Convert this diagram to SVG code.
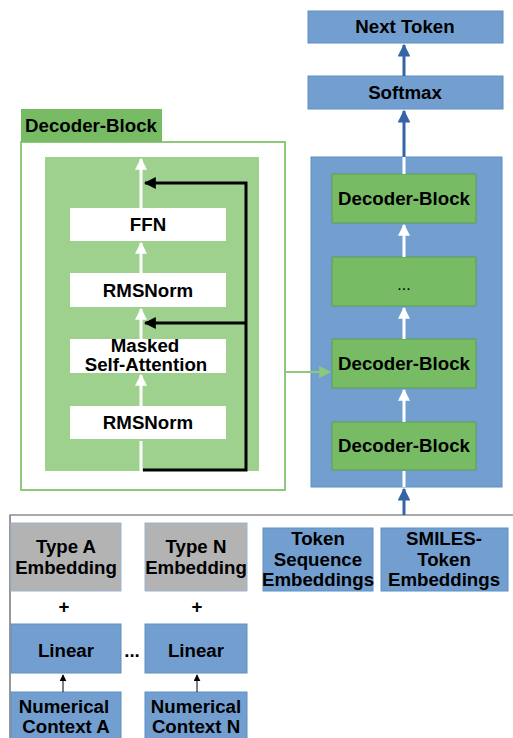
<svg xmlns="http://www.w3.org/2000/svg" width="513" height="738" viewBox="0 0 513 738">
<defs>
<style>
text{font-family:"Liberation Sans",Arial,sans-serif;font-weight:bold;font-size:18.7px;fill:#000;text-anchor:middle}
.blue{fill:#729fcf;stroke:#5f8fc4;stroke-width:1}
.green{fill:#77bc65;stroke:#5f9e50;stroke-width:1}
.gray{fill:#b3b3b3;stroke:#9db4d0;stroke-width:1}
.white{fill:#ffffff}
.wl{stroke:#ffffff;stroke-width:3;fill:none}
.db{stroke:#3465a4;stroke-width:3;fill:none}
.bk{stroke:#000;stroke-width:3;fill:none}
</style>
<marker id="aw" viewBox="0 0 10 10" refX="9" refY="5" markerWidth="4" markerHeight="4" orient="auto" markerUnits="strokeWidth"><path d="M0,0 L10,5 L0,10 z" fill="#ffffff"/></marker>
<marker id="ab" viewBox="0 0 10 10" refX="9" refY="5" markerWidth="4.3" markerHeight="4.3" orient="auto" markerUnits="strokeWidth"><path d="M0,0 L10,5 L0,10 z" fill="#3465a4"/></marker>
<marker id="ak" viewBox="0 0 10 10" refX="9" refY="5" markerWidth="4" markerHeight="4" orient="auto" markerUnits="strokeWidth"><path d="M0,0 L10,5 L0,10 z" fill="#000"/></marker>
<marker id="ag" viewBox="0 0 10 10" refX="9" refY="5" markerWidth="6" markerHeight="6" orient="auto" markerUnits="strokeWidth"><path d="M0,0 L10,5 L0,10 z" fill="#8cc97a"/></marker>
<marker id="as" viewBox="0 0 10 10" refX="9" refY="5" markerWidth="7" markerHeight="7" orient="auto" markerUnits="strokeWidth"><path d="M0,0 L10,5 L0,10 z" fill="#000"/></marker>
</defs>

<g id="frame">
<path d="M10,738 L10,515 L513,515" stroke="#555" stroke-width="1.2" fill="none"/>
</g>

<g id="decoder-detail">
<rect x="21" y="142" width="264" height="348" fill="#fff" stroke="#8cc97a" stroke-width="2"/>
<rect x="21" y="109" width="141" height="33" fill="#77bc65"/>
<text x="91" y="132">Decoder-Block</text>
<rect x="45" y="157" width="214" height="314" fill="#9fd18e"/>
</g>

<g id="ffn"><rect class="white" x="70" y="208" width="156" height="33"/><text x="148" y="231">FFN</text></g>
<g id="rmsnorm-top"><rect class="white" x="70" y="273" width="156" height="34"/><text x="148" y="297">RMSNorm</text></g>
<g id="msa"><rect class="white" x="70" y="339" width="156" height="34"/><text x="145" y="352">Masked</text><text x="146" y="371">Self-Attention</text></g>
<g id="rmsnorm-bottom"><rect class="white" x="70" y="406" width="156" height="33"/><text x="148" y="429">RMSNorm</text></g>

<g id="next-token"><rect class="blue" x="308" y="11" width="195" height="32"/><text x="405" y="33">Next Token</text></g>
<g id="softmax"><rect class="blue" x="308" y="76" width="195" height="33"/><text x="405" y="99">Softmax</text></g>
<g id="stack"><rect x="311" y="157" width="191" height="330" fill="#729fcf" stroke="#5f8fc4" stroke-width="1"/></g>
<g id="db4"><rect class="green" x="332" y="174" width="144" height="49"/><text x="404" y="205">Decoder-Block</text></g>
<g id="dots"><rect class="green" x="332" y="257" width="144" height="49"/><text x="404" y="290" style="font-weight:normal;font-size:16px">...</text></g>
<g id="db2"><rect class="green" x="332" y="339" width="144" height="49"/><text x="404" y="370">Decoder-Block</text></g>
<g id="db1"><rect class="green" x="332" y="422" width="144" height="48"/><text x="404" y="452">Decoder-Block</text></g>

<g id="type-a"><rect class="gray" x="11" y="523" width="110" height="68"/><text x="66" y="553">Type A</text><text x="66" y="574">Embedding</text></g>
<g id="type-n"><rect class="gray" x="145" y="523" width="102" height="68"/><text x="196" y="553">Type N</text><text x="196" y="574">Embedding</text></g>
<g id="plus-a"><text x="64" y="613">+</text></g>
<g id="plus-n"><text x="197" y="613">+</text></g>
<g id="linear-a"><rect class="blue" x="11" y="624" width="110" height="49"/><text x="66" y="657">Linear</text></g>
<g id="ellipsis"><text x="132" y="657">...</text></g>
<g id="linear-n"><rect class="blue" x="145" y="624" width="102" height="49"/><text x="196" y="657">Linear</text></g>
<g id="num-a"><rect class="blue" x="11" y="692" width="110" height="50"/><text x="64" y="713">Numerical</text><text x="66" y="733">Context A</text></g>
<g id="num-n"><rect class="blue" x="145" y="692" width="102" height="50"/><text x="196" y="713">Numerical</text><text x="196" y="733">Context N</text></g>
<g id="token-seq"><rect class="blue" x="263" y="528" width="110" height="63"/><text x="318" y="545">Token</text><text x="318" y="566">Sequence</text><text x="318" y="586">Embeddings</text></g>
<g id="smiles"><rect class="blue" x="381" y="528" width="127" height="63"/><text x="444" y="545">SMILES-</text><text x="444" y="566">Token</text><text x="444" y="586">Embeddings</text></g>

<g id="connectors">
<line class="wl" x1="141" y1="471" x2="141" y2="441"/>
<line class="wl" x1="141" y1="406" x2="141" y2="375" marker-end="url(#aw)"/>
<line class="wl" x1="141" y1="339" x2="141" y2="309" marker-end="url(#aw)"/>
<line class="wl" x1="141" y1="273" x2="141" y2="243" marker-end="url(#aw)"/>
<line class="wl" x1="141" y1="208" x2="141" y2="159" marker-end="url(#aw)"/>
<path class="bk" d="M143,470 L246,470 L246,183 L145,183" marker-end="url(#ak)"/>
<path class="bk" d="M246,323 L145,323" marker-end="url(#ak)"/>
<line x1="285" y1="372" x2="330" y2="372" stroke="#8cc97a" stroke-width="2" marker-end="url(#ag)"/>
<line class="wl" x1="404" y1="487" x2="404" y2="471"/>
<line class="wl" x1="404" y1="422" x2="404" y2="390" marker-end="url(#aw)"/>
<line class="wl" x1="404" y1="339" x2="404" y2="308" marker-end="url(#aw)"/>
<line class="wl" x1="404" y1="257" x2="404" y2="225" marker-end="url(#aw)"/>
<line class="wl" x1="404" y1="174" x2="404" y2="157"/>
<line class="db" x1="404" y1="157" x2="404" y2="111" marker-end="url(#ab)"/>
<line class="db" x1="404" y1="76" x2="404" y2="45" marker-end="url(#ab)"/>
<line class="db" x1="404" y1="515" x2="404" y2="489" marker-end="url(#ab)"/>
<line x1="63" y1="692" x2="63" y2="675" stroke="#000" stroke-width="1" marker-end="url(#as)"/>
<line x1="197" y1="692" x2="197" y2="675" stroke="#000" stroke-width="1" marker-end="url(#as)"/>
</g>
</svg>
